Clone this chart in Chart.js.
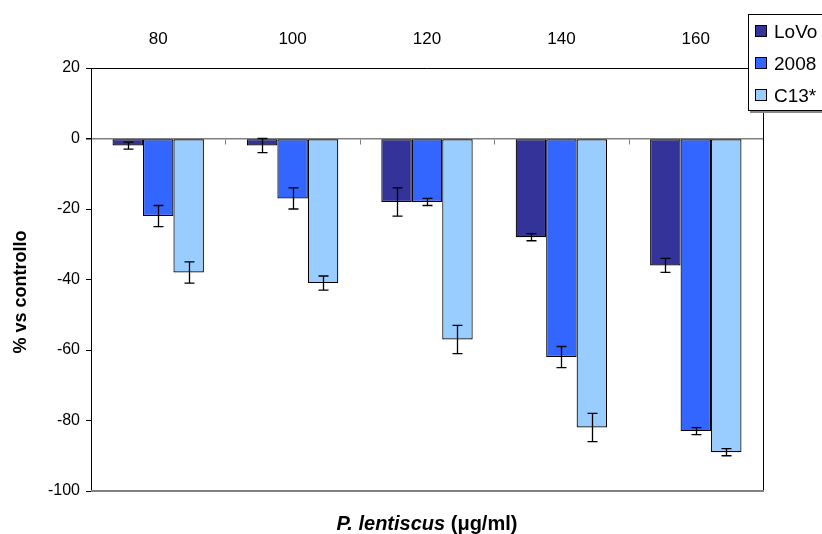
<!DOCTYPE html>
<html>
<head>
<meta charset="utf-8">
<script src="https://cdn.jsdelivr.net/npm/chart.js@4"></script>
<style>
    html, body { margin: 0; padding: 0; background: #fff; overflow: hidden; }
    #wrap { position: relative; width: 822px; height: 534px; overflow: hidden; font-family: "Liberation Sans", Arial, sans-serif; }
    #legend {
        position: absolute; left: 748px; top: 14px; width: 90px; height: 95px;
        background: #fff; border: 1px solid #000; box-shadow: 2px 2px 0 #888;
    }
    .item { position: absolute; left: 6px; height: 22px; font-size: 19px; line-height: 22px; white-space: nowrap; }
    .item span.box { display: inline-block; width: 10px; height: 10px; border: 1px solid #000; margin-right: 7px; vertical-align: 1px; }
    #xtitle {
        position: absolute; left: 91px; width: 672px; top: 512px; line-height: 23px; text-align: center;
        font-weight: bold; font-size: 20px;
    }
    #ytitle {
        position: absolute; left: 20px; top: 292px; width: 200px; line-height: 20px; text-align: center;
        font-weight: bold; font-size: 18px; white-space: nowrap;
        transform: translate(-50%, -50%) rotate(-90deg);
    }
</style>
</head>
<body>
<div id="wrap">
    <canvas id="chart" width="822" height="534"></canvas>
    <div id="legend"></div>
    <div id="ytitle">% vs controllo</div>
    <div id="xtitle"><i>P. lentiscus</i> (μg/ml)</div>
</div>
<script>
// ========================================
// Data
// ========================================
const categories = ['80', '100', '120', '140', '160'];
const seriesNames = ['LoVo', '2008', 'C13*'];
const seriesColors = ['#333399', '#3366FF', '#99CCFF'];

const lovo = [-2, -2, -18, -28, -36];
const cell2008 = [-22, -17, -18, -62, -83];
const c13 = [-38, -41, -57, -82, -89];

const lovoErr = [1, 2, 4, 1, 2];
const cell2008Err = [3, 3, 1, 3, 1];
const c13Err = [3, 2, 4, 4, 1];

const yTicks = [20, 0, -20, -40, -60, -80, -100];

const seriesValues = [lovo, cell2008, c13];
const seriesErrors = [lovoErr, cell2008Err, c13Err];

// ========================================
// Plugins
// ========================================
const errorBars = {
    id: 'errorBars',
    afterDatasetsDraw(chart) {
        const ctx = chart.ctx;
        const yScale = chart.scales.y;
        ctx.save();
        ctx.strokeStyle = '#000';
        ctx.lineWidth = 1.3;
        chart.data.datasets.forEach((ds, i) => {
            const meta = chart.getDatasetMeta(i);
            meta.data.forEach((bar, j) => {
                const v = ds.data[j];
                const e = ds.errors[j];
                const yTop = yScale.getPixelForValue(v + e);
                const yBot = yScale.getPixelForValue(v - e);
                const x = Math.round(bar.x) + 0.5;
                ctx.beginPath();
                ctx.moveTo(x, yTop);
                ctx.lineTo(x, yBot);
                ctx.moveTo(x - 5, yTop);
                ctx.lineTo(x + 5, yTop);
                ctx.moveTo(x - 5, yBot);
                ctx.lineTo(x + 5, yBot);
                ctx.stroke();
            });
        });
        ctx.restore();
    }
};

const plotFrame = {
    id: 'plotFrame',
    beforeDatasetsDraw(chart) {
        // small marks on the zero line between categories
        const ctx = chart.ctx;
        const y0 = Math.round(chart.scales.y.getPixelForValue(0)) + 0.5;
        const xs = chart.scales.x;
        ctx.save();
        ctx.strokeStyle = '#808080';
        ctx.lineWidth = 1;
        for (let i = 1; i < categories.length; i++) {
            const x = Math.round((xs.getPixelForValue(i - 1) + xs.getPixelForValue(i)) / 2) + 0.5;
            ctx.beginPath();
            ctx.moveTo(x, y0);
            ctx.lineTo(x, y0 + 5);
            ctx.stroke();
        }
        ctx.restore();
    },
    afterDraw(chart) {
        const ctx = chart.ctx;
        const a = chart.chartArea;
        ctx.save();
        ctx.lineWidth = 1;
        ctx.strokeStyle = '#000';
        ctx.beginPath();
        ctx.moveTo(a.left, Math.round(a.top) + 0.5);
        ctx.lineTo(Math.round(a.right) + 0.5, Math.round(a.top) + 0.5);
        ctx.lineTo(Math.round(a.right) + 0.5, Math.round(a.bottom));
        ctx.stroke();
        ctx.strokeStyle = '#808080';
        ctx.lineWidth = 2;
        ctx.beginPath();
        ctx.moveTo(a.left, Math.round(a.bottom));
        ctx.lineTo(Math.round(a.right) + 1, Math.round(a.bottom));
        ctx.stroke();
        ctx.restore();
    }
};

// ========================================
// Chart
// ========================================
const datasets = seriesNames.map((name, i) => ({
    label: name,
    data: seriesValues[i],
    errors: seriesErrors[i],
    backgroundColor: seriesColors[i],
    borderColor: '#000',
    borderWidth: 1.2,
    borderSkipped: false,
    barPercentage: 1.0,
    categoryPercentage: 0.68
}));

new Chart(document.getElementById('chart'), {
    type: 'bar',
    data: { labels: categories, datasets: datasets },
    options: {
        responsive: false,
        animation: false,
        layout: { padding: { top: 0, right: 59, bottom: 43, left: 0 } },
        plugins: {
            legend: { display: false },
            tooltip: { enabled: false }
        },
        scales: {
            x: {
                position: 'top',
                grid: { display: false, drawTicks: false },
                border: { display: false },
                ticks: {
                    color: '#000',
                    font: { family: 'Liberation Sans', size: 17 },
                    padding: 18
                },
                afterFit: function(scale) { scale.height = 68; }
            },
            y: {
                min: -100,
                max: 20,
                afterBuildTicks: function(scale) {
                    scale.ticks = yTicks.map(v => ({ value: v }));
                },
                grid: {
                    color: ctx => ctx.tick && ctx.tick.value === 0 ? '#808080' : 'rgba(0,0,0,0)',
                    lineWidth: ctx => ctx.tick && ctx.tick.value === 0 ? 1.5 : 1,
                    tickColor: '#000',
                    tickLength: 5
                },
                border: { display: true, color: '#000', width: 1 },
                ticks: {
                    color: '#000',
                    font: { family: 'Liberation Sans', size: 16 },
                    padding: 6
                },
                afterFit: function(scale) { scale.width = 91; }
            }
        }
    },
    plugins: [plotFrame, errorBars]
});

// legend
const legend = document.getElementById('legend');
seriesNames.forEach((name, i) => {
    const item = document.createElement('div');
    item.className = 'item';
    item.style.top = (6 + i * 32) + 'px';
    item.innerHTML = '<span class="box" style="background:' + seriesColors[i] + '"></span>' + name;
    legend.appendChild(item);
});
</script>
</body>
</html>
